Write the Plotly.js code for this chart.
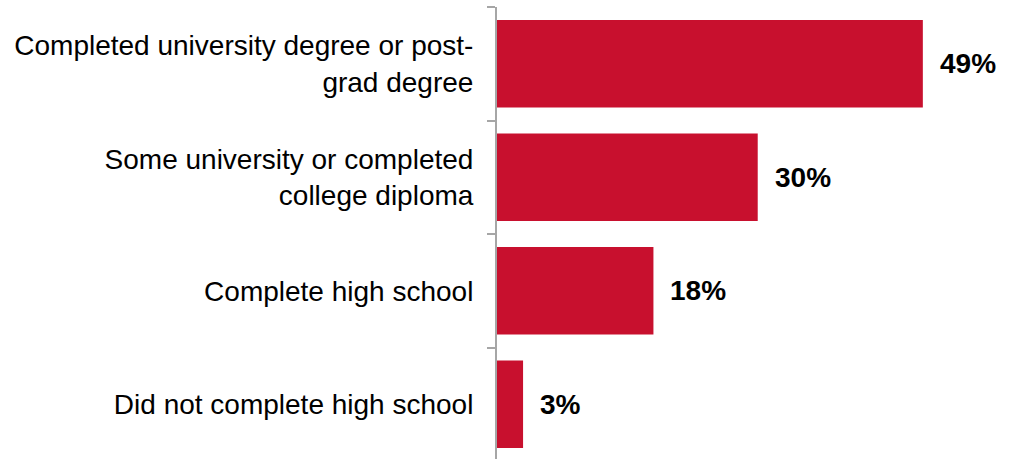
<!DOCTYPE html>
<html>
<head>
<meta charset="utf-8">
<script src="https://cdn.plot.ly/plotly-3.0.1.min.js"></script>
<style>html,body{margin:0;padding:0;background:#fff;overflow:hidden;}#chart{width:1012px;height:461px;}</style>
</head>
<body>
<div id="chart"></div>
<script>
const categories = [
  "Completed university degree or post-<br>grad degree",
  "Some university or completed<br>college diploma",
  "Complete high school",
  "Did not complete high school"
];
const values = [49, 30, 18, 3];
const valueLabels = ["49%", "30%", "18%", "3%"];

const trace = {
  type: "bar",
  orientation: "h",
  x: values,
  y: categories,
  marker: {color: "#C8102E"},
  hoverinfo: "none"
};

const annotations = values.map((v, i) => ({
  x: v, y: categories[i], xref: "x", yref: "y",
  text: "<b>" + valueLabels[i] + "</b>",
  showarrow: false, xanchor: "left", yanchor: "middle", xshift: 15,
  font: {family: "Liberation Sans, Arial, sans-serif", size: 28, color: "#000"}
}));

const layout = {
  width: 1012, height: 461,
  margin: {l: 497, r: 0, t: 7, b: 0},
  paper_bgcolor: "#fff", plot_bgcolor: "#fff",
  showlegend: false,
  bargap: 0.23,
  xaxis: {range: [0, 59.26], visible: false, fixedrange: true},
  yaxis: {
    type: "category",
    categoryorder: "array", categoryarray: categories,
    range: [3.5, -0.5],
    showline: true, linecolor: "#A6A6A6", linewidth: 2,
    ticks: "outside", tickson: "boundaries", ticklen: 8, tickcolor: "#A6A6A6", tickwidth: 2,
    showgrid: false, zeroline: false,
    tickfont: {family: "Liberation Sans, Arial, sans-serif", size: 28, color: "#000"},
    ticklabelstandoff: 16
  },
  annotations: annotations
};

Plotly.newPlot("chart", [trace], layout, {displayModeBar: false, staticPlot: true});
</script>
</body>
</html>
